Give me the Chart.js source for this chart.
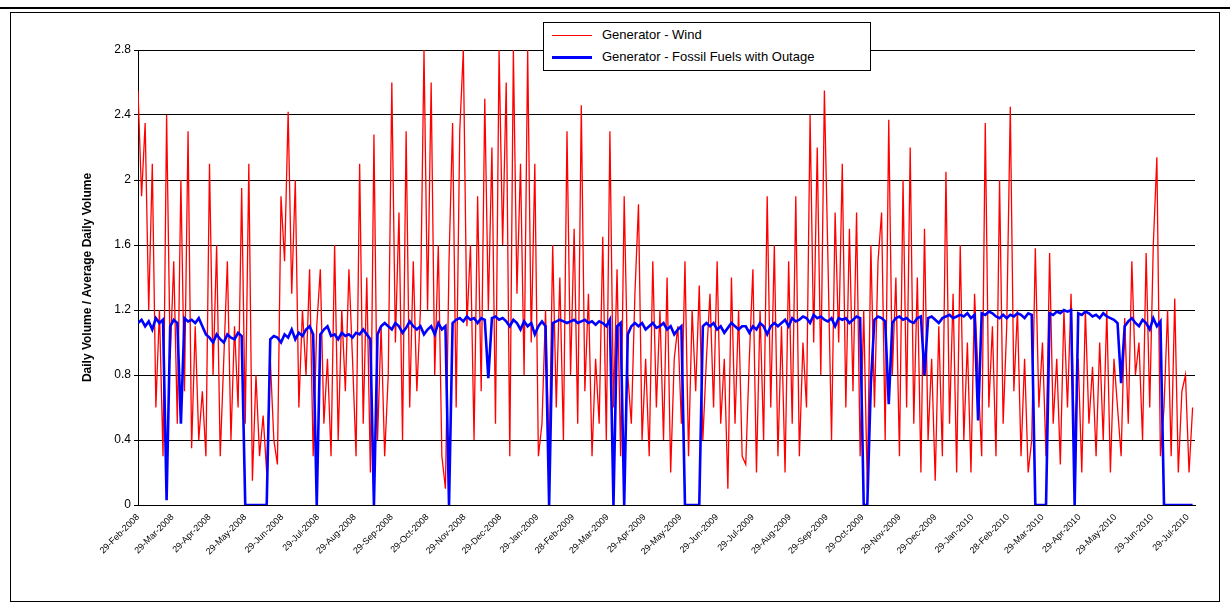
<!DOCTYPE html>
<html>
<head>
<meta charset="utf-8">
<script src="https://cdn.jsdelivr.net/npm/chart.js@4"></script>
<style>
  body { margin: 0; background: #fff; font-family: Arial, "Liberation Sans", sans-serif; }
  #wrap { position: relative; width: 1230px; height: 610px; }
  #topline { position: absolute; left: 0; top: 7px; width: 1230px; border-top: 2px solid #000; }
  #frame { position: absolute; left: 10px; top: 12px; width: 1208px; height: 588px; border: 1px solid #000; }
  canvas { position: absolute; left: 0; top: 0; }
  #legend { position: absolute; left: 543px; top: 22px; width: 326px; height: 47px; border: 1px solid #000;
            background: #fff; font-size: 13px; }
  .item { position: absolute; left: 8px; height: 18px; line-height: 18px; }
  .item span { display: inline-block; width: 40px; vertical-align: middle; margin-right: 10px; }
</style>
</head>
<body>
<div id="wrap">
  <div id="topline"></div>
  <div id="frame"></div>
  <canvas id="chart" width="1230" height="610"></canvas>
  <div id="legend">
    <div class="item" style="top:3px"><span style="border-top:1.5px solid #ff0000"></span>Generator - Wind</div>
    <div class="item" style="top:25px"><span style="border-top:3px solid #0000ff"></span>Generator - Fossil Fuels with Outage</div>
  </div>
</div>
<script>
// ─── Data ────────────────────────────────────────────────────
const STEP_DAYS = 3; // one value every 3 days from 29-Feb-2008

const windValues = [
  2.55,1.9,2.35,1.2,2.1,0.6,1.2,0.3,2.4,0.9,
  1.5,0.5,2.0,0.7,2.3,0.35,1.1,0.4,0.7,0.3,
  2.1,0.8,1.6,0.3,0.9,1.5,0.4,1.1,0.6,1.95,
  0.5,2.1,0.15,0.8,0.3,0.55,0.2,0.9,0.4,0.25,
  1.9,1.5,2.42,1.3,2.0,0.6,1.2,0.8,1.45,0.3,
  1.1,1.45,0.5,0.9,0.3,1.6,0.4,1.2,0.7,1.45,
  0.9,0.3,2.1,0.5,1.4,0.2,2.28,0.4,1.1,0.3,
  0.8,2.6,1.0,1.8,0.4,2.3,0.6,1.5,0.7,1.2,
  2.8,1.2,2.6,0.8,1.6,0.3,0.1,1.5,2.35,0.6,
  2.3,2.8,1.1,1.6,0.4,1.9,0.7,2.5,1.2,2.2,
  0.5,2.8,1.6,2.6,0.3,2.8,1.3,2.1,0.8,2.8,
  1.0,2.1,0.3,0.5,1.2,0.25,1.6,0.6,1.4,0.4,
  2.3,0.8,1.7,0.5,2.46,0.7,1.3,0.3,0.9,0.5,
  1.65,0.4,2.3,0.6,1.45,0.3,1.9,0.8,0.5,1.3,
  1.85,0.4,0.9,0.3,1.5,0.6,1.2,0.4,1.4,0.2,
  0.9,1.1,0.5,1.5,0.3,1.2,0.7,1.35,0.4,0.9,
  1.3,0.6,1.5,0.5,0.9,0.1,1.4,0.5,1.2,0.3,
  0.25,0.9,1.45,0.2,1.2,0.4,1.9,0.6,1.6,0.3,
  1.1,0.2,1.5,0.5,1.9,0.3,1.0,0.6,2.4,1.0,
  2.2,0.8,2.55,1.5,0.4,1.8,1.0,2.1,0.6,1.7,
  0.7,1.8,0.3,1.2,0.1,1.6,0.6,1.5,1.8,0.4,
  2.37,0.8,1.4,0.3,2.0,0.6,2.2,0.5,1.4,0.2,
  1.7,0.4,0.9,0.15,1.1,0.3,2.05,0.5,1.3,0.2,
  1.6,0.4,1.0,0.2,1.3,0.8,0.3,2.35,0.6,1.1,
  0.3,2.0,0.5,1.1,2.45,0.7,1.2,0.3,0.9,0.2,
  0.4,1.58,0.6,1.0,0.3,1.55,0.5,0.9,0.25,1.2,
  0.6,1.3,0.3,0.9,0.2,1.2,0.5,0.85,0.3,1.0,
  0.4,1.2,0.2,0.9,0.6,0.3,1.15,0.5,1.5,0.8,
  1.0,0.4,1.55,0.6,1.6,2.14,0.3,0.6,1.2,0.3,
  1.27,0.2,0.7,0.8,0.2,0.6
];

const fossilValues = [
  1.12,1.14,1.1,1.13,1.08,1.15,1.12,1.14,0.03,1.1,
  1.14,1.12,0.5,1.15,1.13,1.14,1.12,1.15,1.1,1.05,
  1.03,1.0,1.05,1.02,1.0,1.05,1.03,1.02,1.06,1.04,
  0,0,0,0,0,0,0,1.02,1.04,1.03,
  1.0,1.05,1.03,1.08,1.02,1.06,1.04,1.08,1.1,1.05,
  0,1.05,1.08,1.1,1.04,1.05,1.02,1.06,1.04,1.05,
  1.03,1.06,1.05,1.08,1.05,1.02,0,1.05,1.1,1.12,
  1.1,1.08,1.12,1.1,1.06,1.09,1.13,1.1,1.08,1.1,
  1.05,1.08,1.1,1.05,1.12,1.08,1.1,0,1.12,1.14,
  1.15,1.13,1.16,1.14,1.15,1.12,1.15,1.14,0.78,1.15,
  1.16,1.14,1.15,1.13,1.1,1.14,1.12,1.08,1.13,1.1,
  1.12,1.05,1.1,1.13,1.1,0,1.12,1.13,1.14,1.13,
  1.12,1.13,1.14,1.12,1.13,1.14,1.12,1.13,1.11,1.13,
  1.12,1.1,1.14,0,1.1,1.12,0,1.05,1.1,1.12,
  1.1,1.12,1.08,1.1,1.12,1.09,1.1,1.12,1.08,1.1,
  1.05,1.08,1.1,0,0,0,0,0,1.1,1.12,
  1.1,1.12,1.08,1.1,1.06,1.09,1.12,1.1,1.08,1.1,
  1.1,1.06,1.1,1.08,1.12,1.1,1.05,1.1,1.12,1.1,
  1.12,1.14,1.1,1.15,1.13,1.14,1.16,1.15,1.12,1.17,
  1.15,1.16,1.14,1.13,1.15,1.1,1.15,1.14,1.15,1.12,
  1.14,1.16,1.15,0,0,0.75,1.14,1.16,1.15,1.13,
  0.62,1.12,1.15,1.16,1.14,1.15,1.13,1.12,1.15,1.16,
  0.8,1.15,1.16,1.14,1.12,1.15,1.16,1.17,1.15,1.16,
  1.17,1.16,1.18,1.15,1.17,0.52,1.18,1.17,1.19,1.18,
  1.16,1.15,1.17,1.15,1.17,1.16,1.18,1.17,1.15,1.18,
  1.17,0,0,0,0,1.18,1.17,1.19,1.18,1.2,
  1.19,1.2,0,1.18,1.17,1.19,1.18,1.16,1.17,1.15,
  1.18,1.16,1.15,1.14,1.12,0.75,1.1,1.13,1.15,1.12,
  1.1,1.14,1.12,1.08,1.15,1.1,1.13,0,0,0,
  0,0,0,0,0,0
];

const tickLabels = [
  "29-Feb-2008","29-Mar-2008","29-Apr-2008","29-May-2008","29-Jun-2008","29-Jul-2008",
  "29-Aug-2008","29-Sep-2008","29-Oct-2008","29-Nov-2008","29-Dec-2008","29-Jan-2009",
  "28-Feb-2009","29-Mar-2009","29-Apr-2009","29-May-2009","29-Jun-2009","29-Jul-2009",
  "29-Aug-2009","29-Sep-2009","29-Oct-2009","29-Nov-2009","29-Dec-2009","29-Jan-2010",
  "28-Feb-2010","29-Mar-2010","29-Apr-2010","29-May-2010","29-Jun-2010","29-Jul-2010"
];

// ─── Axis helpers ────────────────────────────────────────────
const MONTHS = { Jan:0, Feb:1, Mar:2, Apr:3, May:4, Jun:5, Jul:6, Aug:7, Sep:8, Oct:9, Nov:10, Dec:11 };
const START = Date.UTC(2008, 1, 29);
const tickDays = tickLabels.map(s => {
  const [d, m, y] = s.split("-");
  return (Date.UTC(+y, MONTHS[m], +d) - START) / 86400000;
});

const toPoints = arr => arr.map((v, i) => ({ x: i * STEP_DAYS, y: v }));

new Chart(document.getElementById("chart"), {
  type: "line",
  data: {
    datasets: [
      { label: "Generator - Wind", data: toPoints(windValues), borderColor: "#ff0000",
        borderWidth: 1.3, pointRadius: 0, tension: 0, order: 2 },
      { label: "Generator - Fossil Fuels with Outage", data: toPoints(fossilValues), borderColor: "#0000ff",
        borderWidth: 2.6, pointRadius: 0, tension: 0, order: 1 }
    ]
  },
  options: {
    responsive: false,
    animation: false,
    layout: { padding: { top: 50, right: 35, left: 76 } },
    plugins: { legend: { display: false }, tooltip: { enabled: false } },
    scales: {
      x: {
        type: "linear", min: 0, max: 887,
        afterBuildTicks: ax => { ax.ticks = tickDays.map(v => ({ value: v })); },
        afterFit: ax => { ax.height = 105; },
        ticks: {
          autoSkip: false, minRotation: 45, maxRotation: 45, color: "#000",
          font: { family: "Arial, Liberation Sans", size: 9 },
          callback: (v, i) => tickLabels[i]
        },
        grid: { display: false, drawTicks: true, tickLength: 4 },
        border: { color: "#000" }
      },
      y: {
        min: 0, max: 2.8,
        afterFit: ax => { ax.width = 62; },
        ticks: { stepSize: 0.4, color: "#000", font: { family: "Arial, Liberation Sans", size: 12 },
                 callback: v => +v.toFixed(1) },
        grid: { color: "#000", lineWidth: 1, tickLength: 4 },
        border: { color: "#000" },
        title: { display: true, text: "Daily Volume / Average Daily Volume", color: "#000",
                 font: { family: "Arial, Liberation Sans", size: 12, weight: "bold" } }
      }
    }
  }
});
</script>
</body>
</html>
